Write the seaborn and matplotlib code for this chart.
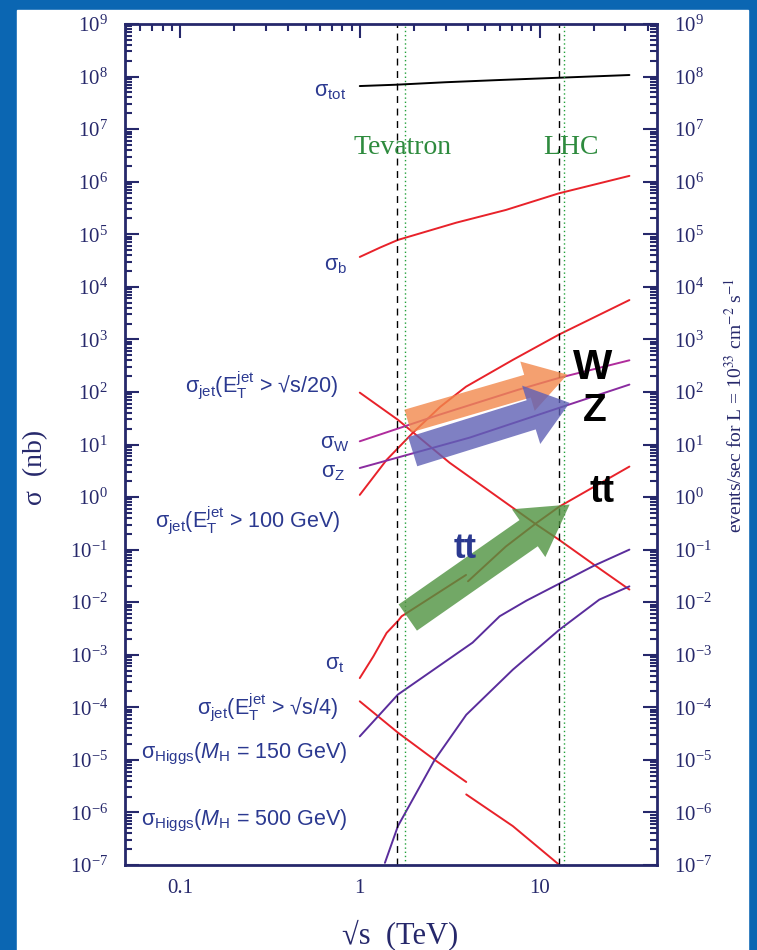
import numpy as np
import pandas as pd
import matplotlib
matplotlib.use("Agg")
import matplotlib.pyplot as plt
import seaborn as sns
from matplotlib.patches import Rectangle
from matplotlib.ticker import LogLocator, NullFormatter

# sqrt(s) in TeV, sigma in nb
tot_x = [1.0, 1.6, 3.0, 6.0, 12.8, 31.6]
tot_y = [6.6e7, 7.0e7, 7.8e7, 8.6e7, 9.5e7, 1.07e8]

b_x = [1.0, 1.3, 1.63, 3.44, 6.5, 12.8, 31.6]
b_y = [3.7e4, 5.6e4, 7.8e4, 1.66e5, 2.9e5, 6.0e5, 1.29e6]

jet100_x = [1.0, 1.41, 1.97, 2.8, 3.9, 7.1, 12.8, 31.6]
jet100_y = [1.1, 5.1, 16.6, 52, 126, 407, 1230, 5600]

jet20_x = [1.0, 1.63, 3.16, 9.6, 12.8, 20.7, 31.6]
jet20_y = [97, 29.5, 4.5, 0.30, 0.155, 0.048, 0.0174]

w_x = [1.0, 2.78, 7.6, 12.9, 31.6]
w_y = [11.5, 37, 110, 186, 400]

z_x = [1.0, 4.08, 12.9, 31.6]
z_y = [3.57, 13.5, 50, 138]

# ppbar below 4 TeV, pp above -> two pieces
t_ppbar_x = [1.0, 1.19, 1.41, 1.63, 1.71, 3.9]
t_ppbar_y = [3.6e-4, 9.3e-4, 2.6e-3, 4.4e-3, 5.4e-3, 0.033]
t_pp_x = [4.0, 6.5, 9.6, 12.9, 31.6]
t_pp_y = [0.025, 0.115, 0.32, 0.66, 3.8]

jet4_ppbar_x = [1.0, 1.63, 2.61, 3.91]
jet4_ppbar_y = [1.3e-4, 3.3e-5, 1.0e-5, 3.8e-6]
jet4_pp_x = [3.91, 7.1, 12.9]
jet4_pp_y = [2.2e-6, 5.5e-7, 1.0e-7]

h150_x = [1.0, 1.63, 4.24, 6.0, 8.45, 12.9, 20.2, 31.6]
h150_y = [2.8e-5, 1.75e-4, 1.7e-3, 5.4e-3, 0.0107, 0.0226, 0.050, 0.1]

h500_x = [1.38, 1.63, 2.61, 3.91, 7.1, 12.9, 21.5, 31.6]
h500_y = [1.1e-7, 5.5e-7, 1.0e-5, 7.2e-5, 5.2e-4, 3.0e-3, 0.0112, 0.02]

# Tevatron -> LHC arrows
arrow_names = ["W", "Z", "tt"]
arrow_x0 = [1.85, 1.97, 1.85]
arrow_x1 = [14.3, 14.7, 14.7]
arrow_y0 = [28, 7.3, 5.1e-3]
arrow_y1 = [214, 62, 0.72]

tev_lines = [1.62, 12.8]
tev_dotted = [1.78, 13.7]

y_exps = list(range(-7, 10))
x_major = [0.1, 1, 10]
x_major_labels = ["0.1", "1", "10"]

RED = "#e8222a"
NAVY = "#26286b"
TXT = "#2b3990"
W, H = 757, 950

sns.set_style("white")
plt.rcParams["mathtext.fontset"] = "custom"
plt.rcParams["mathtext.rm"] = "Liberation Sans"
plt.rcParams["mathtext.it"] = "Liberation Sans:italic"
plt.rcParams["mathtext.bf"] = "Liberation Sans:bold"
plt.rcParams["font.family"] = ["Liberation Sans", "DejaVu Sans"]

fig = plt.figure(figsize=(7.57, 9.5), dpi=100)
fig.patch.set_facecolor("#0b66b2")
fig.add_artist(Rectangle((17 / W, 0), (748 - 17) / W, 940 / H,
                         transform=fig.transFigure, color="white", zorder=0))

ax = fig.add_axes([124.6 / W, 1 - 865 / H, (657 - 124.6) / W, (865 - 24) / H])
ax.set_xscale("log")
ax.set_yscale("log")
ax.set_xlim(0.0492, 45)
ax.set_ylim(1e-7, 1e9)

curves = [
    (tot_x, tot_y, "black"),
    (b_x, b_y, RED),
    (jet100_x, jet100_y, RED),
    (jet20_x, jet20_y, RED),
    (w_x, w_y, "#b02c9c"),
    (z_x, z_y, "#8a2ca0"),
    (t_ppbar_x, t_ppbar_y, RED),
    (t_pp_x, t_pp_y, RED),
    (jet4_ppbar_x, jet4_ppbar_y, RED),
    (jet4_pp_x, jet4_pp_y, RED),
    (h150_x, h150_y, "#5a2d9c"),
    (h500_x, h500_y, "#5a2d9c"),
]
for xs, ys, c in curves:
    sns.lineplot(x=xs, y=ys, ax=ax, color=c, lw=1.4, estimator=None, sort=False)

for xv in tev_lines:
    ax.axvline(xv, color="black", ls=(0, (5, 4)), lw=1.0)
for xv in tev_dotted:
    ax.axvline(xv, color="#22a03a", ls=(0, (1, 2)), lw=1.0)

arrow_cols = ["#f2884c", "#5f60b5", "#4f9240"]
arrow_dims = [(37, 30, 17), (44, 29, 22), (42, 36, 23)]
for i in range(3):
    hw, hl, tw = arrow_dims[i]
    ax.annotate("", xy=(arrow_x1[i], arrow_y1[i]), xytext=(arrow_x0[i], arrow_y0[i]),
                arrowprops=dict(arrowstyle=f"simple,head_width={hw},head_length={hl},tail_width={tw}",
                                mutation_scale=1, color=arrow_cols[i], alpha=0.8,
                                shrinkA=0, shrinkB=0, lw=0), zorder=5)

# ticks
ax.set_yticks([10.0 ** e for e in y_exps],
              [f"$\\mathdefault{{10^{{{e}}}}}$" for e in y_exps],
              fontsize=15, fontfamily="Liberation Serif", color=NAVY)
ax.yaxis.set_minor_locator(LogLocator(base=10, subs=np.arange(2, 10), numticks=100))
ax.yaxis.set_minor_formatter(NullFormatter())
ax.set_xticks(x_major, x_major_labels, fontsize=15, fontfamily="Liberation Serif", color=NAVY)
ax.xaxis.set_minor_locator(LogLocator(base=10, subs=np.arange(2, 10), numticks=100))
ax.xaxis.set_minor_formatter(NullFormatter())
ax.tick_params(which="both", direction="in", color=NAVY, width=1.5, top=True, right=True)
ax.tick_params(which="major", length=10)
ax.tick_params(which="minor", length=5)
ax.tick_params(axis="y", pad=12)
ax.tick_params(axis="x", pad=10)
for s in ax.spines.values():
    s.set_color(NAVY)
    s.set_linewidth(2)
ax.set_xlabel("")
ax.set_ylabel("")

ax2 = ax.twinx()
ax2.set_yscale("log")
ax2.set_ylim(1e-7, 1e9)
ax2.set_yticks([10.0 ** e for e in y_exps],
               [f"$\\mathdefault{{10^{{{e}}}}}$" for e in y_exps],
               fontsize=15, fontfamily="Liberation Serif", color=NAVY)
ax2.yaxis.set_minor_locator(LogLocator(base=10, subs=np.arange(2, 10), numticks=100))
ax2.yaxis.set_minor_formatter(NullFormatter())
ax2.tick_params(which="both", direction="in", color=NAVY, width=1.5, pad=12)
ax2.tick_params(which="major", length=10)
ax2.tick_params(which="minor", length=5)
for s in ax2.spines.values():
    s.set_visible(False)

def ftxt(x, y, s, **kw):
    fig.text(x / W, 1 - y / H, s, **kw)

lab = dict(ha="right", va="center", color=TXT, fontsize=15.5)
ftxt(346, 92, "σ$_{\\rm tot}$", **lab)
ftxt(347, 265, "σ$_{\\rm b}$", **lab)
ftxt(338, 385, "σ$_{\\rm jet}$(E$_{\\rm T}^{\\rm jet}$ > √s/20)", **lab)
ftxt(350, 443, "σ$_{\\rm W}$", **lab)
ftxt(345, 472, "σ$_{\\rm Z}$", **lab)
ftxt(340, 520, "σ$_{\\rm jet}$(E$_{\\rm T}^{\\rm jet}$ > 100 GeV)", **lab)
ftxt(345, 665, "σ$_{\\rm t}$", **lab)
ftxt(338, 707, "σ$_{\\rm jet}$(E$_{\\rm T}^{\\rm jet}$ > √s/4)", **lab)
ftxt(347, 754, "σ$_{\\rm Higgs}$($M_{\\rm H}$ = 150 GeV)", **lab)
ftxt(347, 821, "σ$_{\\rm Higgs}$($M_{\\rm H}$ = 500 GeV)", **lab)

ftxt(403, 147, "Tevatron", ha="center", va="center", color="#2e8b3e",
     fontsize=20, fontfamily="Liberation Serif")
ftxt(571, 147, "LHC", ha="center", va="center", color="#2e8b3e",
     fontsize=20, fontfamily="Liberation Serif")

big = dict(ha="center", va="center", fontweight="bold", zorder=10)
ftxt(593, 368, "W", color="black", fontsize=30, **big)
ftxt(595, 411, "Z", color="black", fontsize=28, **big)
ftxt(602, 492, "tt", color="black", fontsize=27, **big)
ftxt(465, 548, "tt", color=TXT, fontsize=25, **big)

ftxt(36, 467, "σ  (nb)", rotation=90, ha="center", va="center", color=NAVY,
     fontsize=20, fontfamily="Liberation Serif")
ftxt(400, 935, "√s  (TeV)", ha="center", va="center", color=NAVY,
     fontsize=22, fontfamily="Liberation Serif")
ftxt(735, 405, "events/sec for L = 10$^{33}$ cm$^{-2}$ s$^{-1}$", rotation=90,
     ha="center", va="center", color=NAVY, fontsize=14,
     fontfamily="Liberation Serif", math_fontfamily="stix")

fig.savefig("out.png", dpi=100)
